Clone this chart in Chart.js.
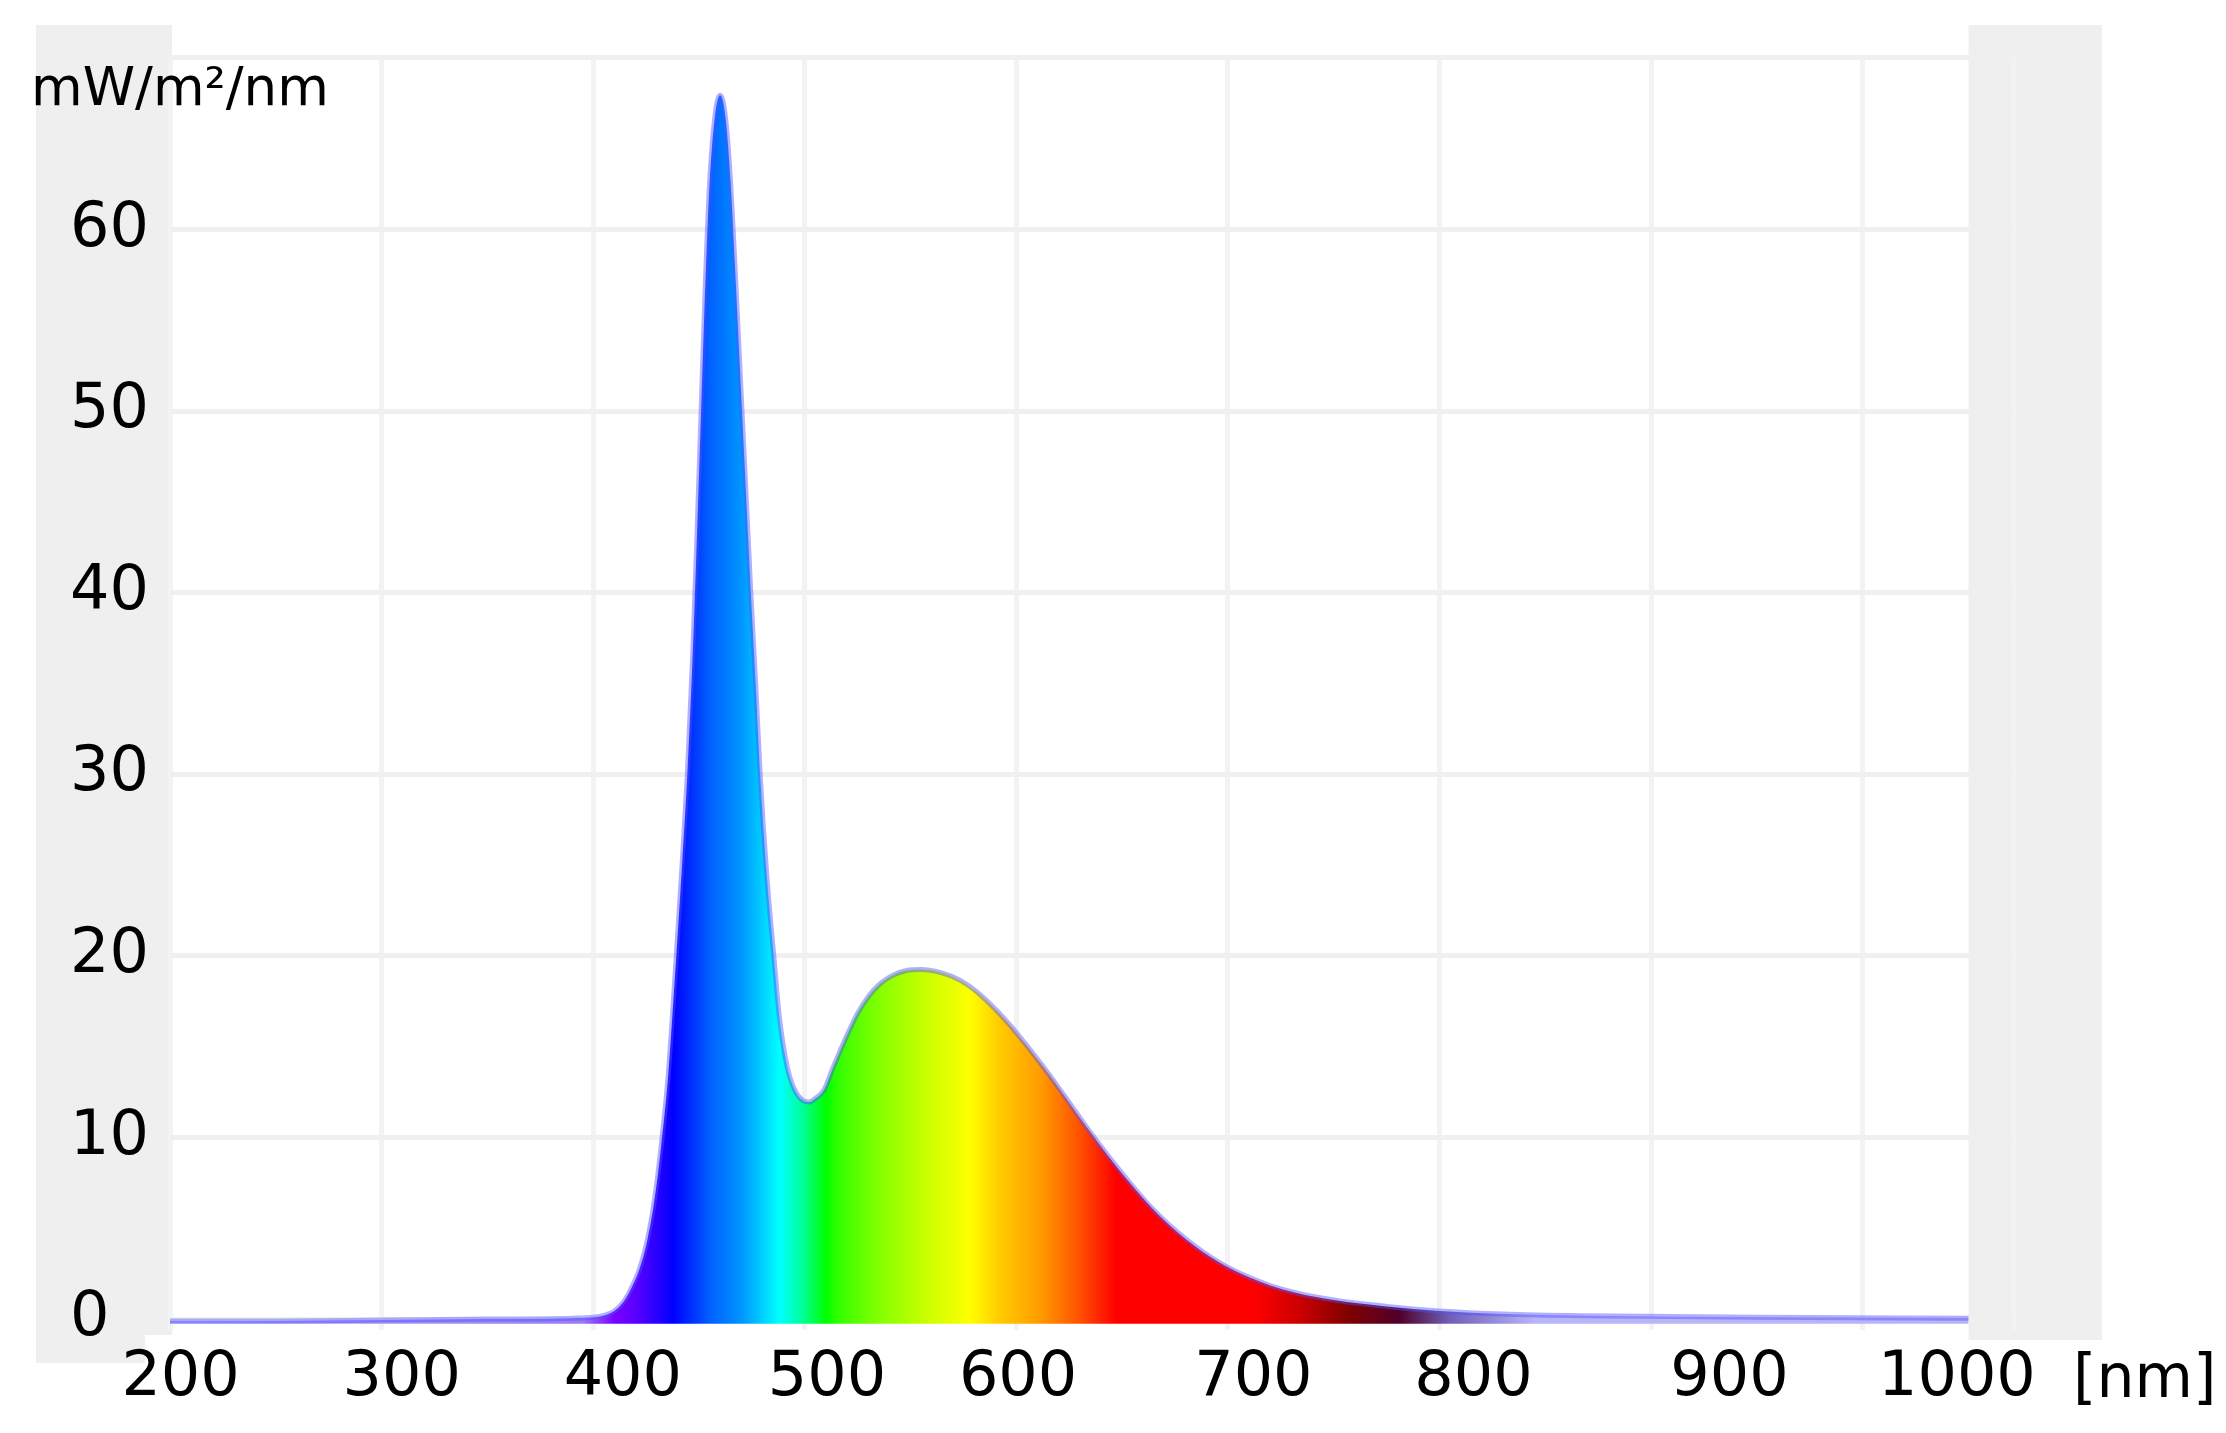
<!DOCTYPE html>
<html><head><meta charset="utf-8">
<script src="https://cdn.jsdelivr.net/npm/chart.js@4"></script>
<style>html,body{margin:0;padding:0;background:#fff;}canvas{display:block;}</style>
</head><body>
<canvas id="c" width="2226" height="1433"></canvas>
<script>
// ---- data ----
const wavelengths = [200,250,300,350,390,400,405,410,414,418,422,425.5,429,432,435.5,439,442,444.5,447,449,451,453,455,457.5,460,462.5,465,467,469.5,472,474.5,477,479,482,485.5,488,490.5,493,496,499,502,505,509,513,517,521,525,530,535,541,548,555,562,570,577,584,591,598,605,612,619,626,633,640,647,654,661,668,676,684,692,700,710,720,732,750,775,800,830,870,950,1050];
const irradiance = [-0.1,-0.1,-0.05,0.0,0.05,0.1,0.2,0.45,0.9,1.7,2.8,4.3,6.6,9.4,13.5,19.5,25,30,36.5,43,50,57,62.5,66.2,67.4,66.2,62.5,58,52,46,40,34.5,29.8,24.5,19.8,16.6,14.6,13.3,12.45,12.05,11.95,12.15,12.6,13.75,14.85,15.9,16.85,17.75,18.4,18.9,19.2,19.25,19.15,18.85,18.4,17.75,16.95,16.05,15.05,14.0,12.9,11.75,10.6,9.5,8.45,7.45,6.5,5.65,4.8,4.05,3.4,2.85,2.3,1.85,1.45,1.05,0.7,0.45,0.28,0.18,0.1,0.05];
const yTickValues = [0,10,20,30,40,50,60];
const xGridValues = [200,300,400,500,600,700,800,900,1000];
const xTickLabels = ['200','300','400','500','600','700','800','900','1000'];
const xTickLabelPos = [205,309.5,414,510.5,600.8,712,816,937,1044.5];
const yUnitLabel = 'mW/m\u00B2/nm';
const xUnitLabel = '[nm]';
const xMin = 200, xMax = 1071, yMin = -0.6, yMax = 69.5;
// spectral fill colours (wavelength stop -> colour)
const specStops  = [200,395,410,420,438,455,470,488,499,510,516,534,554,578,592,612,630,647,712,734,757,781,805,845,1071];
const specColors = ['#b4b4f8','#9a7cf5','#7a00ff','#5a00ff','#0000ff','#0060ff','#0095ff','#00ffff','#00ff99','#00ff00','#33ff00','#80ff00','#bfff00','#ffff00','#ffcc00','#ff9900','#ff5000','#ff0000','#ff0000','#cc0000','#800000','#50002a','#7060b8','#b8b4f8','#b8b4f8'];

const FONT = 'DejaVu Sans';

function spectrumFill(ctx){
  const chart = ctx.chart;
  const area = chart.chartArea;
  if(!area) return '#88f';
  const xs = chart.scales.x;
  const x0 = xs.getPixelForValue(xMin), x1 = xs.getPixelForValue(xMax);
  const g = chart.ctx.createLinearGradient(x0,0,x1,0);
  specStops.forEach((nm,i)=>g.addColorStop((nm-xMin)/(xMax-xMin), specColors[i]));
  return g;
}

const panelPlugin = {
  id:'panels',
  beforeDraw(chart){
    const c = chart.ctx, a = chart.chartArea, xs = chart.scales.x;
    c.save();
    c.fillStyle = '#ffffff';
    c.fillRect(0,0,chart.width,chart.height);
    c.fillStyle = '#efefef';
    c.fillRect(a.left-134, a.top-32, 136, a.bottom+5-(a.top-32));
    c.fillRect(a.left-134, a.top-32, 109, a.bottom+33-(a.top-32));
    const xr = xs.getPixelForValue(wavelengths[wavelengths.length-1]);
    c.fillRect(xr, a.top-32, a.right+89-xr, a.bottom+10-(a.top-32));
    c.restore();
  }
};
const textPlugin = {
  id:'unitText',
  afterDraw(chart){
    const c = chart.ctx, a = chart.chartArea;
    c.save();
    c.fillStyle = '#000';
    c.textAlign = 'left';
    c.textBaseline = 'alphabetic';
    c.font = '53px "'+FONT+'"';
    c.fillText(yUnitLabel, a.left-139, a.top+48);
    c.font = '60px "'+FONT+'"';
    c.fillText(xUnitLabel, a.right+60, a.bottom+67);
    c.restore();
  }
};

new Chart(document.getElementById('c'), {
  type:'line',
  data:{datasets:[{
    data: wavelengths.map((w,i)=>({x:w,y:irradiance[i]})),
    borderColor:'rgba(80,80,255,0.45)',
    borderWidth:5,
    pointRadius:0,
    cubicInterpolationMode:'monotone',
    fill:{value:-0.25},
    backgroundColor: spectrumFill
  }]},
  options:{
    responsive:false, animation:false, devicePixelRatio:1,
    layout:{padding:{left:70,right:213,top:57,bottom:0}},
    plugins:{legend:{display:false},tooltip:{enabled:false}},
    scales:{
      x:{type:'linear',position:'bottom',min:xMin,max:xMax,
         afterBuildTicks:s=>{s.ticks = xGridValues.concat([xMax]).map(v=>({value:v}));},
         ticks:{display:false},
         grid:{color:'#f3f3f3',lineWidth:5,drawTicks:false},
         border:{display:false},
         afterFit:s=>{s.height=0;}},
      xl:{type:'linear',position:'bottom',min:xMin,max:xMax,
         afterBuildTicks:s=>{s.ticks = xTickLabelPos.map(v=>({value:v}));},
         ticks:{autoSkip:false,maxRotation:0,minRotation:0,padding:12,color:'#000',
                font:{family:FONT,size:62},callback:(v,i)=>xTickLabels[i]},
         grid:{display:false,drawTicks:false},
         border:{display:false},
         afterFit:s=>{s.height=103;}},
      y:{type:'linear',min:yMin,max:yMax,
         afterBuildTicks:s=>{s.ticks = yTickValues.concat([yMax]).map(v=>({value:v}));},
         ticks:{crossAlign:'far',padding:10,color:'#000',font:{family:FONT,size:62},
                callback:(v)=> yTickValues.includes(v) ? String(v) : ''},
         grid:{color:'#f0f0f0',lineWidth:5,drawTicks:false},
         border:{display:false},
         afterFit:s=>{s.width=100;}}
    }
  },
  plugins:[panelPlugin,textPlugin]
});
</script>
</body></html>
